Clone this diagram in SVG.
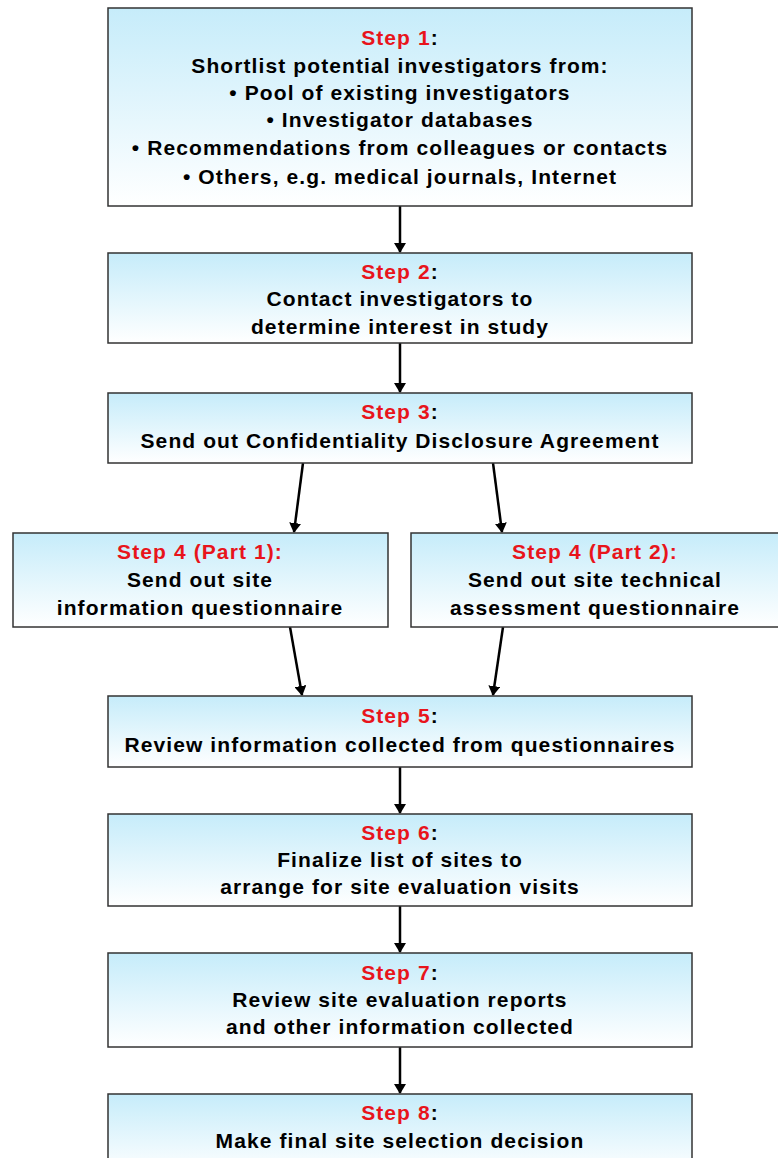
<svg xmlns="http://www.w3.org/2000/svg" width="778" height="1158" viewBox="0 0 778 1158">
<defs>
<linearGradient id="g" x1="0" y1="0" x2="0" y2="1">
<stop offset="0" stop-color="#c6ecfa"/>
<stop offset="1" stop-color="#ffffff"/>
</linearGradient>
<marker id="ah" markerWidth="10" markerHeight="12" refX="9" refY="6" orient="auto" markerUnits="userSpaceOnUse">
<path d="M0,0 L10,6 L0,12 z" fill="#000"/>
</marker>
</defs>
<style>
.box{fill:url(#g);stroke:#333;stroke-width:1.5}
text{font-family:"Liberation Sans",Arial,sans-serif;font-weight:bold;font-size:21px;letter-spacing:1.1px;text-anchor:middle;fill:#000}
.r{fill:#e8141b}
.c{stroke:#000;stroke-width:2.5;fill:none;marker-end:url(#ah)}
</style>
<rect width="778" height="1158" fill="#fff"/>
<g id="connectors">
<line class="c" x1="400" y1="206" x2="400" y2="252"/>
<line class="c" x1="400" y1="343" x2="400" y2="392"/>
<line class="c" x1="303" y1="463" x2="294" y2="532"/>
<line class="c" x1="493" y1="463" x2="502" y2="532"/>
<line class="c" x1="290" y1="627" x2="302" y2="695"/>
<line class="c" x1="503" y1="627" x2="493" y2="695"/>
<line class="c" x1="400" y1="767" x2="400" y2="813"/>
<line class="c" x1="400" y1="906" x2="400" y2="952"/>
<line class="c" x1="400" y1="1047" x2="400" y2="1093"/>
</g>
<g id="step1">
<rect class="box" x="108" y="8" width="584" height="198"/>
<text x="400" y="45"><tspan class="r">Step 1</tspan>:</text>
<text x="400" y="73">Shortlist potential investigators from:</text>
<text x="400" y="100">• Pool of existing investigators</text>
<text x="400" y="127">• Investigator databases</text>
<text x="400" y="155">• Recommendations from colleagues or contacts</text>
<text x="400" y="184">• Others, e.g. medical journals, Internet</text>
</g>
<g id="step2">
<rect class="box" x="108" y="253" width="584" height="90"/>
<text x="400" y="279"><tspan class="r">Step 2</tspan>:</text>
<text x="400" y="306">Contact investigators to</text>
<text x="400" y="334">determine interest in study</text>
</g>
<g id="step3">
<rect class="box" x="108" y="393" width="584" height="70"/>
<text x="400" y="419"><tspan class="r">Step 3</tspan>:</text>
<text x="400" y="448">Send out Confidentiality Disclosure Agreement</text>
</g>
<g id="step4a">
<rect class="box" x="13" y="533" width="375" height="94"/>
<text x="200" y="559" class="r">Step 4 (Part 1):</text>
<text x="200" y="587">Send out site</text>
<text x="200" y="615">information questionnaire</text>
</g>
<g id="step4b">
<rect class="box" x="411" y="533" width="372" height="94"/>
<text x="595" y="559" class="r">Step 4 (Part 2):</text>
<text x="595" y="587">Send out site technical</text>
<text x="595" y="615">assessment questionnaire</text>
</g>
<g id="step5">
<rect class="box" x="108" y="696" width="584" height="71"/>
<text x="400" y="723"><tspan class="r">Step 5</tspan>:</text>
<text x="400" y="752">Review information collected from questionnaires</text>
</g>
<g id="step6">
<rect class="box" x="108" y="814" width="584" height="92"/>
<text x="400" y="840"><tspan class="r">Step 6</tspan>:</text>
<text x="400" y="867">Finalize list of sites to</text>
<text x="400" y="894">arrange for site evaluation visits</text>
</g>
<g id="step7">
<rect class="box" x="108" y="953" width="584" height="94"/>
<text x="400" y="980"><tspan class="r">Step 7</tspan>:</text>
<text x="400" y="1007">Review site evaluation reports</text>
<text x="400" y="1034">and other information collected</text>
</g>
<g id="step8">
<rect class="box" x="108" y="1094" width="584" height="80"/>
<text x="400" y="1120"><tspan class="r">Step 8</tspan>:</text>
<text x="400" y="1148">Make final site selection decision</text>
</g>
</svg>
